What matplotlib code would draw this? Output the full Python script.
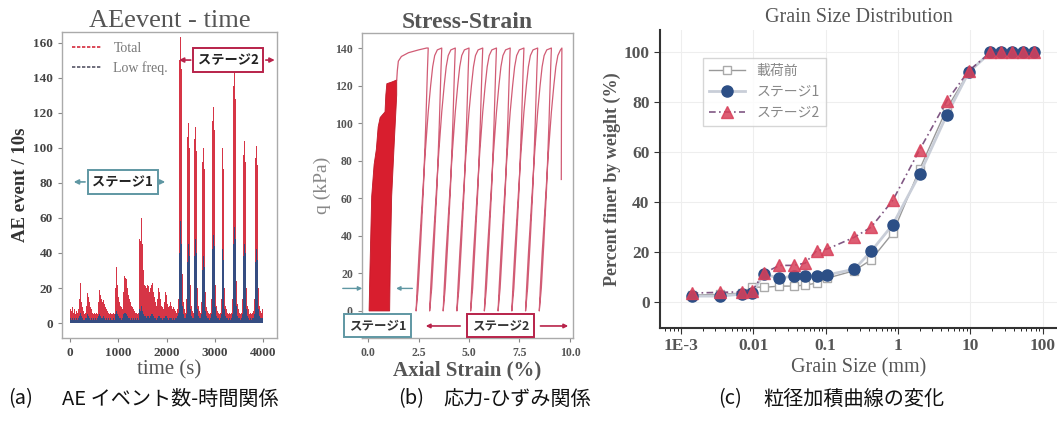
import numpy as np
import matplotlib
matplotlib.use("Agg")
import matplotlib.pyplot as plt
from matplotlib.lines import Line2D

SERIF = "Liberation Serif"
JP = "Noto Sans CJK JP"

# ---------------- data: (a) AE event - time ----------------
bin_width = 20
total = [8,7,9,6,8,5,7,6,8,
         14,23,12,9,7,6,5,6,
         10,17,15,12,9,8,6,5,6,5,6,5,
         12,19,16,14,12,13,11,9,8,7,6,5,6,5,6,5,6,5,
         20,32,22,15,12,10,9,8,
         18,27,26,25,20,16,14,12,10,9,8,7,6,6,5,6,5,
         48,47,60,45,30,22,21,20,22,21,18,20,22,23,18,15,12,10,14,20,18,14,10,9,8,12,18,16,14,11,9,10,12,10,8,9,8,7,
         6,8,14,
         150,163,145,28, 12,8,6,14,
         106,114,100,22, 10,7,6,12,
         105,112,98,20, 10,7,6,12,
         92,100,88,18, 9,7,6,5,6,14,
         115,123,110,22, 10,7,6,5,6,14,
         92,100,88,20, 10,8,6,5,6,5,6,14,
         135,145,128,24, 11,8,6,5,6,14,
         96,104,92,20, 10,8,6,5,6,5,6,7,14,
         94,101,90,20, 10,7,6,8]
low_freq = [3,2,3,2,3,2,3,2,3,
            4,6,4,3,2,3,2,3,
            3,5,4,3,2,3,2,3,2,3,2,3,
            4,5,4,3,3,4,3,2,3,2,3,2,3,2,3,2,3,2,
            5,7,5,4,3,3,2,3,
            5,6,6,5,4,3,3,2,3,2,3,2,3,2,3,2,3,
            8,7,10,7,5,4,4,3,4,4,3,4,5,5,4,3,3,2,3,4,4,3,3,2,3,3,4,4,3,3,2,3,3,3,2,3,2,3,
            3,4,6,
            40,58,45,10, 5,3,3,5,
            35,45,38,8, 4,3,3,5,
            38,48,40,8, 4,3,3,5,
            30,38,32,7, 4,3,3,2,3,5,
            42,50,44,9, 4,3,3,2,3,5,
            35,42,36,8, 4,3,3,2,3,2,3,5,
            45,55,48,10, 4,3,3,2,3,5,
            38,45,40,8, 4,3,3,2,3,2,3,3,5,
            35,42,36,8, 4,3,3,3]
time_s = np.arange(len(total)) * bin_width

# ---------------- data: (b) stress-strain ----------------
s1_x = [0.05, 0.10, 0.18, 0.30, 0.41, 0.50, 0.60, 0.84, 0.88, 0.93, 1.20, 1.42, 1.42, 1.30, 1.17, 1.10, 1.07]
s1_q = [0, 25, 61, 78, 86, 98, 103, 106, 115, 121, 122, 123, 115, 90, 61, 25, 0]
init_x = [1.42, 1.45, 1.50, 1.65, 2.0, 2.5, 2.9, 2.98]
init_q = [123, 128, 133, 135.5, 137.5, 139, 140, 140]
reload_dx = [0, 0.05, 0.15, 0.30, 0.45, 0.60, 0.72, 0.82, 0.92, 1.05]
reload_q = [0, 12, 32, 58, 84, 106, 120, 130, 136, 139]
unload_dx = [0.60, 0.56, 0.48, 0.36, 0.22, 0.10, 0.0]
unload_q = [140, 128, 100, 65, 35, 12, 0]
valleys = [2.38, 3.05, 3.72, 4.40, 5.08, 5.76, 6.44, 7.12, 7.80, 8.48]
final_x = [9.60, 9.58, 9.57]
final_q = [140, 110, 70]

# ---------------- data: (c) grain size distribution ----------------
grain_mm = [0.0014, 0.0035, 0.007, 0.0097, 0.014, 0.023, 0.036, 0.052, 0.075, 0.106,
            0.25, 0.425, 0.85, 2.0, 4.75, 9.5, 19, 26.5, 37.5, 53, 75]
before = [2.7, 3.0, 3.5, 6.0, 5.8, 6.3, 6.3, 6.7, 7.5, 9.5,
          12.5, 16.8, 27.6, 53.2, 77.5, 92, 100, 100, 100, 100, 100]
stage1 = [2.3, 2.3, 3.1, 3.6, 11.2, 9.4, 10.4, 10.4, 10.4, 10.8,
          13.1, 20.2, 31, 51.2, 75, 92, 100, 100, 100, 100, 100]
stage2 = [3.5, 3.8, 4.0, 4.5, 11.5, 14.6, 14.6, 15.5, 20.5, 21.2,
          25.9, 29.9, 40.7, 61, 80.6, 92.6, 100, 100, 100, 100, 100]

# ---------------- figure ----------------
W, H = 1057, 421
fig = plt.figure(figsize=(W / 100, H / 100), dpi=100)

def ax_rect(l, r, t, b):
    return [l / W, (H - b) / H, (r - l) / W, (b - t) / H]

RED = "#d42a3c"
BLUE = "#2c4f86"
TEAL = "#5f97a3"
CRIM = "#b8234a"
GRAYT = "#555555"

# ---------- (a) ----------
ax1 = fig.add_axes(ax_rect(62, 277, 32, 338))
ax1.bar(time_s, total, width=bin_width, color=RED, linewidth=0, align="edge", alpha=0.95)
ax1.bar(time_s, low_freq, width=bin_width, color=BLUE, linewidth=0, align="edge", alpha=0.95)
ax1.set_xlim(-166, 4290)
ax1.set_ylim(-8.5, 166)
ax1.set_xticks([0, 1000, 2000, 3000, 4000])
ax1.set_yticks(range(0, 161, 20))
for sp in ax1.spines.values():
    sp.set_color("#aaaaaa")
    sp.set_linewidth(1.0)
ax1.tick_params(colors="#888888", labelcolor="#444444", labelsize=9.5, length=3)
for lab in ax1.get_xticklabels() + ax1.get_yticklabels():
    lab.set_fontfamily(SERIF)
    lab.set_fontweight("bold")
ax1.set_title("AEevent - time", family=SERIF, fontsize=19, color=GRAYT, pad=3)
ax1.set_ylabel("AE event / 10s", family=SERIF, fontsize=13.5, fontweight="bold", color="#333333", labelpad=3)
ax1.set_xlabel("time (s)", family=SERIF, fontsize=15, color=GRAYT, labelpad=1)
leg_handles = [Line2D([], [], color=RED, ls=(0, (2, 1)), lw=1.2),
               Line2D([], [], color="#555566", ls=(0, (2, 1)), lw=1.2)]
leg1 = ax1.legend(leg_handles, ["Total", "Low freq."], loc="upper left", frameon=False,
                  prop={"family": SERIF, "size": 10}, handlelength=2.2, borderaxespad=0.3,
                  labelspacing=0.45)
for tx in leg1.get_texts():
    tx.set_color("#777777")
# stage annotations (a)
ax1.annotate("", xy=(20, 80.5), xytext=(370, 80.5),
             arrowprops=dict(arrowstyle="-|>", color=TEAL, lw=1.2, mutation_scale=7))
ax1.annotate("", xy=(2030, 80.5), xytext=(1820, 80.5),
             arrowprops=dict(arrowstyle="-|>", color=TEAL, lw=1.2, mutation_scale=7))
ax1.text(1090, 80.5, "ステージ1", family=JP, fontsize=9.5, fontweight="bold", color="#222222",
         ha="center", va="center",
         bbox=dict(boxstyle="square,pad=0.35", fc="white", ec=TEAL, lw=1.4))
ax1.annotate("", xy=(2200, 150), xytext=(2560, 150),
             arrowprops=dict(arrowstyle="-|>", color=CRIM, lw=1.2, mutation_scale=7))
ax1.annotate("", xy=(4300, 150), xytext=(4000, 150), annotation_clip=False,
             arrowprops=dict(arrowstyle="-|>", color=CRIM, lw=1.2, mutation_scale=7))
ax1.text(3280, 150, "ステージ2", family=JP, fontsize=9.5, fontweight="bold", color="#222222",
         ha="center", va="center",
         bbox=dict(boxstyle="square,pad=0.35", fc="white", ec=CRIM, lw=1.4))

# ---------- (b) ----------
ax2 = fig.add_axes(ax_rect(362, 573, 33, 338))
ax2.fill(s1_x, s1_q, color="#d81e2e", lw=0.6, ec="#c01828")
path_x = list(init_x)
path_q = list(init_q)
for k, v in enumerate(valleys):
    path_x += [v + d for d in unload_dx]
    path_q += list(unload_q)
    path_x += [v + d for d in reload_dx]
    path_q += list(reload_q)
    if k + 1 < len(valleys):
        path_x.append(valleys[k + 1] + unload_dx[0])
    else:
        path_x.append(final_x[0])
    path_q.append(140)
path_x += final_x
path_q += final_q
ax2.plot(path_x, path_q, color="#cc4a66", lw=0.9, alpha=0.9)
ax2.set_xlim(-0.3, 10.15)
ax2.set_ylim(-14.4, 148)
ax2.set_xticks([0.0, 2.5, 5.0, 7.5, 10.0])
ax2.set_xticklabels(["0.0", "2.5", "5.0", "7.5", "10.0"])
ax2.set_yticks(range(0, 141, 20))
for sp in ax2.spines.values():
    sp.set_color("#aaaaaa")
    sp.set_linewidth(1.0)
ax2.tick_params(colors="#888888", labelcolor="#555555", labelsize=8.5, length=3)
for lab in ax2.get_xticklabels() + ax2.get_yticklabels():
    lab.set_fontfamily(SERIF)
    lab.set_fontweight("bold")
ax2.set_title("Stress-Strain", family=SERIF, fontsize=17, fontweight="bold", color=GRAYT, pad=3)
ax2.set_ylabel("q (kPa)", family=SERIF, fontsize=14, color="#888888", labelpad=3)
ax2.set_xlabel("Axial Strain (%)", family=SERIF, fontsize=15, fontweight="bold", color=GRAYT, labelpad=1)
ax2.annotate("", xy=(-0.15, 12), xytext=(-1.39, 12), annotation_clip=False,
             arrowprops=dict(arrowstyle="-|>", color=TEAL, lw=1.0, mutation_scale=6))
ax2.annotate("", xy=(1.25, 12), xytext=(2.33, 12),
             arrowprops=dict(arrowstyle="-|>", color=TEAL, lw=1.0, mutation_scale=6))
ax2.text(0.47, -8, "ステージ1", family=JP, fontsize=9, fontweight="bold", color="#333333",
         ha="center", va="center",
         bbox=dict(boxstyle="square,pad=0.4", fc="white", ec=TEAL, lw=1.4))
ax2.annotate("", xy=(2.72, -8), xytext=(4.7, -8),
             arrowprops=dict(arrowstyle="-|>", color=CRIM, lw=1.2, mutation_scale=6))
ax2.annotate("", xy=(10.05, -8), xytext=(8.4, -8),
             arrowprops=dict(arrowstyle="-|>", color=CRIM, lw=1.2, mutation_scale=6))
ax2.text(6.55, -8, "ステージ2", family=JP, fontsize=9, fontweight="bold", color="#333333",
         ha="center", va="center",
         bbox=dict(boxstyle="square,pad=0.4", fc="white", ec=CRIM, lw=1.4))

# ---------- (c) ----------
ax3 = fig.add_axes(ax_rect(660, 1057, 30, 328))
ax3.set_xscale("log")
ax3.grid(True, which="major", color="#eeeeee", lw=0.8)
ax3.plot(grain_mm, before, color="#999999", lw=1.0, marker="s", ms=5.5, mfc="white",
         mec="#aaaaaa", label="載荷前", zorder=2)
ax3.plot(grain_mm, stage1, color="#c9ced8", lw=2.0, marker="o", ms=8, mfc=BLUE, mec=BLUE,
         label="ステージ1", zorder=3)
ax3.plot(grain_mm, stage2, color="#6a3a6e", lw=1.2, ls=(0, (4, 2, 1, 2)), marker="^", ms=8.5,
         mfc="#d8405a", mec="#d8405a", alpha=0.85, label="ステージ2", zorder=4)
ax3.set_xlim(10 ** -3.29, 10 ** 2.2)
ax3.set_ylim(-10.5, 109)
ax3.set_xticks([1e-3, 1e-2, 1e-1, 1, 10, 100])
ax3.set_xticklabels(["1E-3", "0.01", "0.1", "1", "10", "100"])
ax3.set_yticks(range(0, 101, 20))
for side in ("top", "right"):
    ax3.spines[side].set_visible(False)
for side in ("left", "bottom"):
    ax3.spines[side].set_color("#333333")
    ax3.spines[side].set_linewidth(1.5)
ax3.tick_params(colors="#333333", labelcolor="#555555", labelsize=12.5, length=4)
ax3.tick_params(which="minor", length=2.5)
for lab in ax3.get_xticklabels() + ax3.get_yticklabels():
    lab.set_fontfamily(SERIF)
    lab.set_fontweight("bold")
ax3.set_title("Grain Size Distribution", family=SERIF, fontsize=14.5, color=GRAYT, pad=6)
ax3.set_ylabel("Percent finer by weight (%)", family=SERIF, fontsize=13, fontweight="bold",
               color="#555555", labelpad=2)
ax3.set_xlabel("Grain Size (mm)", family=SERIF, fontsize=14.5, color=GRAYT, labelpad=3)
leg3 = ax3.legend(loc="upper left", bbox_to_anchor=(0.09, 0.93), frameon=True, fancybox=False,
                  prop={"family": [JP], "size": 10}, handlelength=2.6, borderpad=0.45,
                  labelspacing=0.5, edgecolor="#cccccc")
for tx in leg3.get_texts():
    tx.set_color("#888888")

# ---------- captions ----------
cap_kw = dict(family=[JP, "DejaVu Sans"], fontsize=14.5, color="#111111", va="center", ha="left")
fig.text(8 / W, 1 - 399 / H, "(a)", **cap_kw)
fig.text(62 / W, 1 - 399 / H, "AE イベント数-時間関係", **cap_kw)
fig.text(398 / W, 1 - 399 / H, "(b)", **cap_kw)
fig.text(443 / W, 1 - 399 / H, "応力-ひずみ関係", **cap_kw)
fig.text(718 / W, 1 - 399 / H, "(c)", **cap_kw)
fig.text(763 / W, 1 - 399 / H, "粒径加積曲線の変化", **cap_kw)

fig.savefig("out.png", dpi=100)
